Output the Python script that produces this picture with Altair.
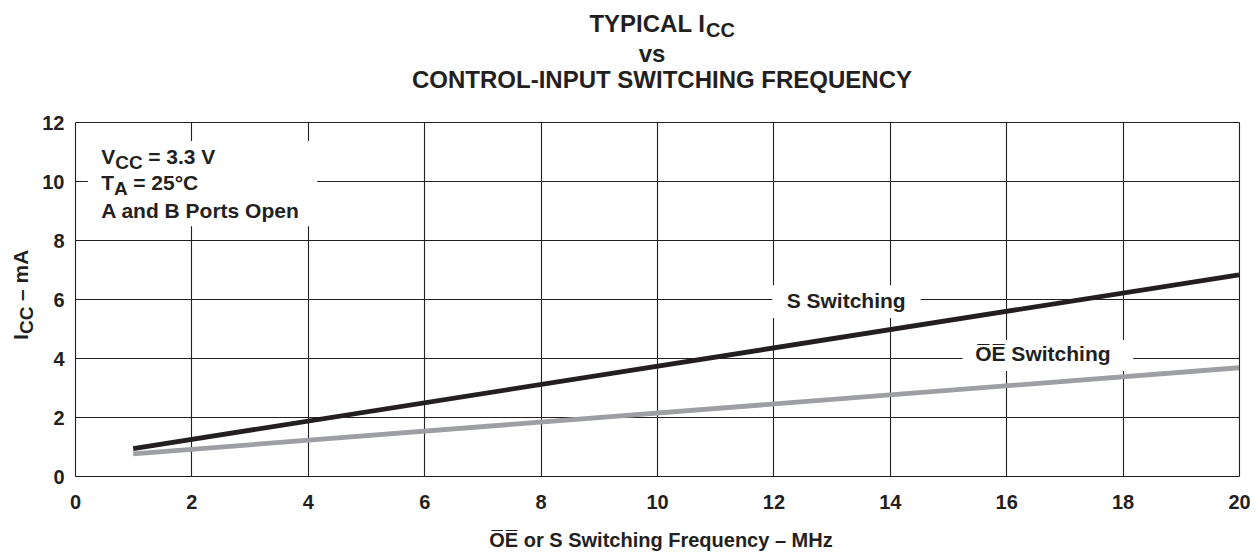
import altair as alt
import pandas as pd

# ---- data ----
freq = [1, 20]
s_icc = [0.93, 6.82]
oe_icc = [0.75, 3.67]
series_names = ["S", "OE"]
x_ticks = list(range(0, 21, 2))
y_ticks = list(range(0, 13, 2))

# label background boxes (data units)
box_x1 = [0.22, 11.98, 15.25]
box_x2 = [4.16, 14.53, 18.18]
box_y1 = [8.47, 5.36, 3.56]
box_y2 = [11.36, 6.47, 4.61]

W, H = 1164, 354
FONT = "Liberation Sans"
INK = "#231f20"
GRAY = "#9d9fa2"

lines_df = pd.DataFrame({
    "f": freq + freq,
    "icc": s_icc + oe_icc,
    "series": [series_names[0]] * len(freq) + [series_names[1]] * len(freq),
})

xs = alt.Scale(domain=[0, 20], nice=False, zero=False)
ys = alt.Scale(domain=[0, 12], nice=False, zero=False)

common_axis = dict(
    title=None, grid=True, ticks=False, domain=False,
    labelFont=FONT, labelFontWeight="bold", labelFontSize=20, labelColor=INK,
    gridColor=INK, gridWidth=1.1, gridOpacity=1, format="d",
)
xaxis = alt.Axis(values=x_ticks, labelFlush=False, labelPadding=16, labelAngle=0, **common_axis)
yaxis = alt.Axis(values=y_ticks, labelPadding=11, labelOffset=1, **common_axis)

X = alt.X("f:Q", scale=xs, axis=xaxis)
Y = alt.Y("icc:Q", scale=ys, axis=yaxis)

lines = alt.Chart(lines_df).mark_line(strokeWidth=4.8, strokeCap="butt").encode(
    x=X, y=Y,
    color=alt.Color("series:N", scale=alt.Scale(domain=series_names, range=[INK, GRAY]), legend=None),
    detail="series:N",
)

boxes_df = pd.DataFrame({"f": box_x1, "f2": box_x2, "icc": box_y1, "icc2": box_y2})
boxes = alt.Chart(boxes_df).mark_rect(color="white").encode(
    x=X, x2="f2:Q", y=Y, y2="icc2:Q"
)


def dlabel(text, x, y, size, dx=0, dy=0, align="left"):
    df = pd.DataFrame({"f": [x], "icc": [y], "t": [text]})
    return alt.Chart(df).mark_text(
        font=FONT, fontWeight="bold", fontSize=size, color=INK,
        align=align, baseline="alphabetic", dx=dx, dy=dy,
    ).encode(x=X, y=Y, text="t:N")


def plabel(text, x, y, size, align="left", angle=0):
    kw = dict(font=FONT, fontWeight="bold", fontSize=size, color=INK,
              align=align, baseline="alphabetic", text=text)
    if angle:
        kw["angle"] = angle
    return alt.Chart(pd.DataFrame({"t": [text]})).mark_text(**kw).encode(
        x=alt.value(x), y=alt.value(y)
    )


AX = 0.45
texts = [
    dlabel("V", AX, 10.58, 21),
    dlabel("CC", AX, 10.58, 19, dx=14, dy=5),
    dlabel("= 3.3 V", AX, 10.58, 21, dx=47),
    dlabel("T", AX, 9.71, 21),
    dlabel("A", AX, 9.71, 19, dx=12.8, dy=5),
    dlabel("= 25°C", AX, 9.71, 21, dx=32),
    dlabel("A and B Ports Open", AX, 8.75, 21),
    dlabel("S Switching", 13.25, 5.695, 21, align="center"),
    dlabel("O\u0305E\u0305 Switching", 16.63, 3.89, 21, align="center"),
    # titles (pixel positions relative to plot origin)
    plabel("TYPICAL I", 630, -90, 24, align="right"),
    plabel("CC", 631, -85, 20, align="left"),
    plabel("vs", 577, -60, 24, align="center"),
    plabel("CONTROL-INPUT SWITCHING FREQUENCY", 587, -34, 24, align="center"),
    plabel("O\u0305E\u0305 or S Switching Frequency \u2013 MHz", 586, 425, 20, align="center"),
    plabel("I", -47, 218, 21, angle=270),
    plabel("CC", -42, 212, 19, angle=270),
    plabel("\u2013 mA", -47, 179, 21, angle=270),
]

chart = alt.layer(boxes, lines, *texts).properties(
    width=W, height=H,
    autosize=alt.AutoSizeParams(type="none"),
    padding={"left": 67, "top": 114, "right": 11, "bottom": 75},
).configure_view(stroke=INK, strokeWidth=2.5).configure(background="white")

chart.save("out.html", embed_options={"renderer": "svg", "actions": False})
